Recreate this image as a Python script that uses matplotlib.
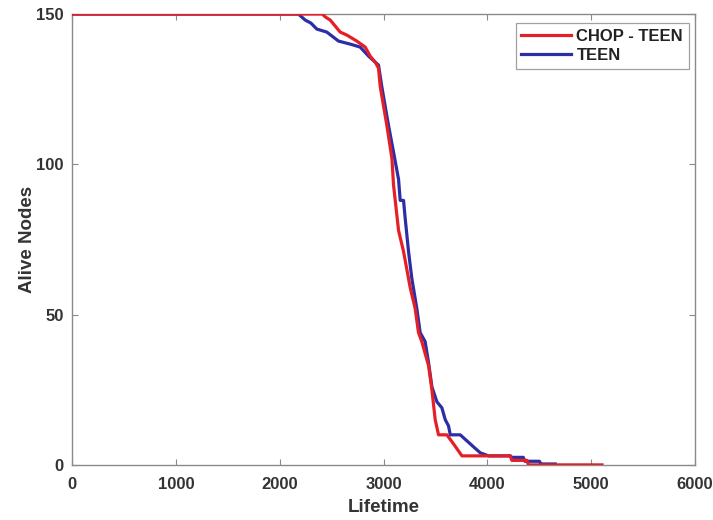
import matplotlib
matplotlib.use("Agg")
import matplotlib.pyplot as plt

plt.rcParams['font.family'] = ['Liberation Sans', 'DejaVu Sans']
plt.rcParams['font.weight'] = 'bold'

# Alive nodes over network lifetime (rounds)
chop_rounds = [0, 2410, 2440, 2486, 2534, 2582, 2646, 2742, 2823, 2871, 2919, 2951,
               2967, 3031, 3080, 3096, 3144, 3192, 3256, 3304, 3336, 3368, 3433,
               3465, 3497, 3529, 3609, 3673, 3754, 4220, 4235, 4380, 4395, 5103]
chop_alive = [150, 150, 149, 148, 146, 144, 143, 141, 139, 136, 134, 132,
              126, 113, 102, 93, 78, 71, 59, 52, 44, 41, 33,
              25, 15, 10, 10, 7, 3, 3, 1.5, 1.5, 0, 0]

teen_rounds = [0, 2180, 2245, 2300, 2357, 2453, 2566, 2678, 2775, 2855, 2951, 2982,
               3047, 3096, 3144, 3160, 3192, 3208, 3240, 3272, 3320, 3352, 3400,
               3433, 3465, 3513, 3561, 3594, 3625, 3642, 3738, 3802, 3866, 3931,
               4011, 4220, 4235, 4345, 4360, 4500, 4515, 4653]
teen_alive = [150, 150, 148, 147, 145, 144, 141, 140, 139, 136, 133, 126,
              113, 104, 95, 88, 88, 82, 71, 62, 52, 44, 41,
              34, 26, 21, 19, 15, 13, 10, 10, 8, 6, 4,
              3, 3, 2.5, 2.5, 1.2, 1.2, 0.3, 0.3]

x_ticks = [0, 1000, 2000, 3000, 4000, 5000, 6000]
y_ticks = [0, 50, 100, 150]

fig = plt.figure(figsize=(7.13, 5.20), dpi=100)
ax = fig.add_axes([0.101, 0.106, 0.874, 0.867])

red = '#e42026'
blue = '#2c2ea6'
ax.plot(teen_rounds, teen_alive, color=blue, lw=2.3, label='TEEN', zorder=3)
ax.plot(chop_rounds, chop_alive, color=red, lw=2.3, label='CHOP - TEEN', zorder=4)

ax.set_xlim(0, 6000)
ax.set_ylim(0, 150)
ax.set_xticks(x_ticks)
ax.set_yticks(y_ticks)

axis_col = '#8a8a8a'
for s in ax.spines.values():
    s.set_color(axis_col)
    s.set_linewidth(1.0)
ax.tick_params(direction='in', length=4, width=0.8, color=axis_col,
               top=True, right=True, labelsize=12, labelcolor='#333333')
ax.tick_params(axis='x', pad=9)
ax.tick_params(axis='y', pad=6)
for lbl in ax.get_xticklabels() + ax.get_yticklabels():
    lbl.set_fontweight('bold')

ax.set_xlabel('Lifetime', fontsize=13.5, fontweight='bold', color='#333333', labelpad=5)
ax.set_ylabel('Alive Nodes', fontsize=13.5, fontweight='bold', color='#333333', labelpad=0)

handles, labels = ax.get_legend_handles_labels()
leg = ax.legend(handles[::-1], labels[::-1], loc='upper right',
                bbox_to_anchor=(0.990, 0.980), fontsize=12, frameon=True,
                fancybox=False, edgecolor=axis_col, handlelength=3.0,
                handletextpad=0.3, borderpad=0.35, labelspacing=0.25,
                borderaxespad=0)
leg.get_frame().set_linewidth(0.9)
for t in leg.get_texts():
    t.set_fontweight('bold')
    t.set_color('#222222')

fig.savefig('out.png', dpi=100)
